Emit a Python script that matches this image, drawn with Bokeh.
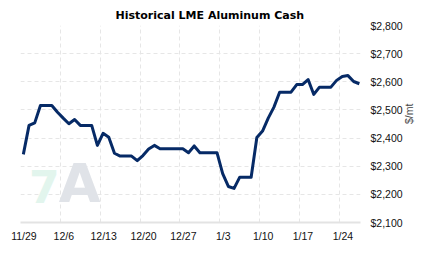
import math
import pandas as pd
from bokeh.plotting import figure
from bokeh.models import FixedTicker, Range1d, Label, NumeralTickFormatter
from bokeh.embed import file_html
from bokeh.resources import INLINE

# Daily LME aluminum cash price, $/mt
start_date = "2021-11-29"
prices = [2342, 2445, 2454, 2516, 2516, 2516, 2492, 2471, 2451, 2466,
          2445, 2445, 2445, 2374, 2417, 2403, 2346, 2336, 2336, 2336,
          2320, 2338, 2361, 2374, 2362, 2362, 2362, 2362, 2362, 2348,
          2372, 2348, 2348, 2348, 2348, 2274, 2228, 2221, 2261, 2261,
          2261, 2402, 2425, 2471, 2510, 2563, 2563, 2563, 2590, 2590,
          2608, 2555, 2581, 2581, 2581, 2605, 2619, 2622, 2601, 2593]
tick_labels = ["11/29", "12/6", "12/13", "12/20", "12/27", "1/3", "1/10", "1/17", "1/24"]
y_ticks = [2100, 2200, 2300, 2400, 2500, 2600, 2700, 2800]

dates = pd.date_range(start_date, periods=len(prices), freq="D")
xs = [(d - pd.Timestamp(start_date)).days + 0.5 for d in dates]
grid_ticks = [7 * i for i in range(len(tick_labels))]
label_ticks = [t + 0.6 for t in grid_ticks]

p = figure(width=423, height=257, output_backend="svg", toolbar_location=None,
           x_range=Range1d(0, 59.7), y_range=Range1d(2100, 2800),
           y_axis_location="right",
           min_border_left=20, min_border_right=61, min_border_top=25, min_border_bottom=35)
p.outline_line_color = None
p.background_fill_color = "white"
p.border_fill_color = "white"

p.title.text = "Historical LME Aluminum Cash"
p.title.align = "left"
p.title.offset = 95
p.title.text_font = "DejaVu Sans"
p.title.text_font_size = "11px"
p.title.text_font_style = "bold"
p.title.text_color = "#000000"
p.title.standoff = 8

# watermark
p.add_layout(Label(x=4.2, y=2168, text="7", text_font="DejaVu Sans", text_font_style="bold",
                   text_font_size="44px", text_color="#e2f5ed", text_align="center",
                   text_baseline="bottom", level="underlay"))
p.add_layout(Label(x=10.4, y=2128, text="A", text_font="DejaVu Sans", text_font_style="bold",
                   text_font_size="54px", text_color="#e0e3e8", text_align="center",
                   text_baseline="bottom", level="underlay"))

p.line(xs, prices, line_color="#062a66", line_width=3, line_join="round")

# x axis
xa = p.xaxis[0]
xa.ticker = FixedTicker(ticks=label_ticks)
xa.major_label_overrides = {t: l for t, l in zip(label_ticks, tick_labels)}
xa.axis_line_color = "#e3e3e3"
xa.axis_line_width = 2
xa.major_tick_line_color = None
xa.major_tick_out = 0
xa.major_tick_in = 0
xa.minor_tick_line_color = None
xa.minor_tick_out = 0
xa.major_label_standoff = 7
xa.major_label_text_font = "Liberation Sans"
xa.major_label_text_font_size = "10.5px"
xa.major_label_text_color = "#111111"

# y axis (right)
ya = p.yaxis[0]
ya.ticker = FixedTicker(ticks=y_ticks)
ya.formatter = NumeralTickFormatter(format="$0,0")
ya.axis_line_color = None
ya.major_tick_line_color = None
ya.minor_tick_line_color = None
ya.major_tick_out = 0
ya.major_tick_in = 0
ya.minor_tick_out = 0
ya.major_label_standoff = 10
ya.major_label_text_font = "Liberation Sans"
ya.major_label_text_font_size = "10.5px"
ya.major_label_text_color = "#111111"
ya.axis_label = "$/mt"
ya.axis_label_text_font = "Liberation Sans"
ya.axis_label_text_font_size = "10.5px"
ya.axis_label_text_font_style = "normal"
ya.axis_label_standoff = 3
if "axis_label_orientation" in ya.properties():
    ya.axis_label_orientation = math.pi / 2

# grids
p.xgrid.ticker = FixedTicker(ticks=grid_ticks)
p.ygrid.ticker = FixedTicker(ticks=y_ticks)
for g in (p.xgrid[0], p.ygrid[0]):
    g.grid_line_color = "#e6e6e6"
    g.grid_line_dash = "4 3"
    g.grid_line_width = 1

open("out.html", "w").write(file_html(p, INLINE))
